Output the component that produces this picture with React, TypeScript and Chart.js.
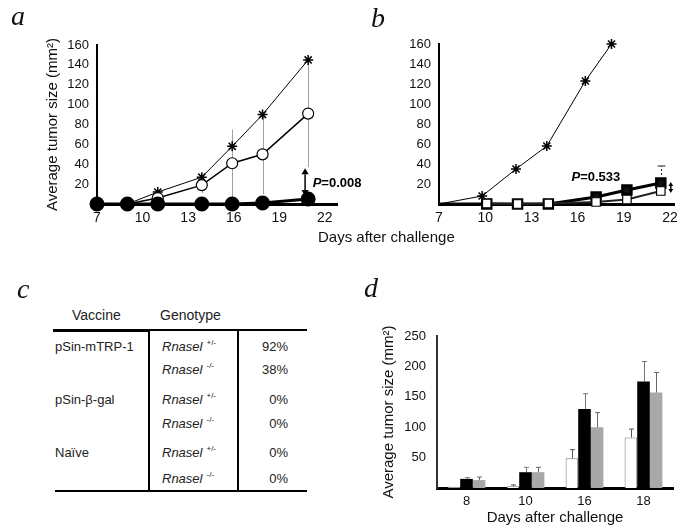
import React, { useEffect, useRef } from 'react';
import { Chart, registerables } from 'chart.js';

Chart.register(...registerables);

const FONT = "'Liberation Sans', Arial, Helvetica, sans-serif";
const SERIF = "'Liberation Serif', 'Times New Roman', serif";

// ---------- Panel a ----------
const aDaysFilled = [7, 9, 11, 13.9, 15.9, 17.9, 20.9];
const aFilled = [0, 0, 0, 0, 0, 1, 5];
const aDaysStar = [9, 11, 13.9, 15.9, 17.9, 20.9];
const aStar = [0, 12, 27, 58, 90, 145];
const aDaysOpen = [9, 11, 13.9, 15.9, 17.9, 20.9];
const aOpen = [0, 6, 19, 41, 50, 91];
const aOpenErr = [0, 0, 8, 34, 40, 54];
const aPText = '=0.008';
const aPAnchor = { day: 21.2, value: 21 };
const aArrow = { day: 20.7, from: 36, to: 8 };

// ---------- Panel b ----------
const bDaysStar = [7, 9.8, 12.0, 14.0, 16.5, 18.2];
const bStar = [0, 8, 35, 58, 123, 160];
const bDaysFilled = [7, 10.1, 12.1, 14.1, 17.2, 19.2, 21.4];
const bFilled = [0, 0, 0, 0, 7, 14, 21];
const bFilledErr = [0, 0, 0, 0, 0, 0, 17];
const bDaysOpen = [10.1, 12.1, 14.1, 17.2, 19.2, 21.4];
const bOpen = [0.5, 0, 0.5, 2, 4.5, 13];
const bPText = '=0.533';
const bPAnchor = { day: 15.6, value: 27 };
const bArrow = { day: 22.05, from: 22, to: 11 };

// shared axes
const dayTicks = [7, 10, 13, 16, 19, 22];
const sizeTicks = [0, 20, 40, 60, 80, 100, 120, 140, 160];

// ---------- Panel d ----------
const dDays = ['8', '10', '16', '18'];
const dWhite = [2, 3, 49, 83];
const dWhiteErr = [0, 2, 14, 14];
const dBlack = [15, 26, 130, 175];
const dBlackErr = [2, 8, 25, 33];
const dGray = [13, 26, 100, 157];
const dGrayErr = [5, 8, 24, 33];
const dTicks = [0, 50, 100, 150, 200, 250];

// ---------- Panel c ----------
const cVaccine = ['pSin-mTRP-1', '', 'pSin-\u03b2-gal', '', 'Na\u00efve', ''];
const cGenotype = ['+/-', '-/-', '+/-', '-/-', '+/-', '-/-'];
const cPercent = ['92%', '38%', '0%', '0%', '0%', '0%'];

function pts(xs: number[], ys: number[]) {
  return xs.map((x, i) => ({ x, y: ys[i] }));
}

function doubleArrow(ctx: CanvasRenderingContext2D, x: number, y1: number, y2: number, head: number) {
  const top = Math.min(y1, y2);
  const bot = Math.max(y1, y2);
  ctx.beginPath();
  ctx.moveTo(x, top + head);
  ctx.lineTo(x, bot - head);
  ctx.stroke();
  ctx.beginPath();
  ctx.moveTo(x, top);
  ctx.lineTo(x - head * 0.6, top + head);
  ctx.lineTo(x + head * 0.6, top + head);
  ctx.closePath();
  ctx.fill();
  ctx.beginPath();
  ctx.moveTo(x, bot);
  ctx.lineTo(x - head * 0.6, bot - head);
  ctx.lineTo(x + head * 0.6, bot - head);
  ctx.closePath();
  ctx.fill();
}

function drawP(ctx: CanvasRenderingContext2D, x: number, y: number, rest: string) {
  ctx.save();
  ctx.fillStyle = '#000';
  ctx.textBaseline = 'middle';
  ctx.textAlign = 'left';
  ctx.font = `italic bold 13px ${FONT}`;
  ctx.fillText('P', x, y);
  const w = ctx.measureText('P').width;
  ctx.font = `bold 13px ${FONT}`;
  ctx.fillText(rest, x + w, y);
  ctx.restore();
}

const tickFont = { family: FONT, size: 13 };
const xTickFont = { family: FONT, size: 14 };

function sizeAxis(width: number, withTitle: boolean) {
  return {
    min: 0,
    max: 160,
    afterBuildTicks: (s: any) => {
      s.ticks = sizeTicks.map((v) => ({ value: v }));
    },
    afterFit: (s: any) => {
      s.width = width;
    },
    grid: { display: false, drawTicks: false },
    border: { display: true, color: '#000', width: 2 },
    ticks: {
      color: '#111',
      font: tickFont,
      padding: 8,
      callback: (v: any) => (v === 0 ? '' : String(v)),
    },
    title: {
      display: withTitle,
      text: 'Average tumor size (mm\u00b2)',
      color: '#111',
      font: { family: FONT, size: 15 },
      padding: { top: 2, bottom: 0 },
    },
  };
}

function dayAxis(max: number) {
  return {
    type: 'linear',
    min: 7,
    max,
    afterBuildTicks: (s: any) => {
      s.ticks = dayTicks.map((v) => ({ value: v }));
    },
    afterFit: (s: any) => {
      s.height = 31;
    },
    grid: { display: false, drawTicks: false },
    border: { display: true, color: '#000', width: 3 },
    ticks: {
      color: '#111',
      font: xTickFont,
      padding: 6,
      maxRotation: 0,
      autoSkip: false,
      callback: (v: any) => String(v),
    },
  };
}

const baseOptions = {
  responsive: false,
  animation: false,
  plugins: { legend: { display: false }, tooltip: { enabled: false } },
};

function makeA(): any {
  const plugin = {
    id: 'annA',
    beforeDatasetsDraw(chart: any) {
      const { ctx, scales } = chart;
      const { x, y } = scales;
      ctx.save();
      ctx.strokeStyle = '#a0a0a0';
      ctx.lineWidth = 1;
      aDaysOpen.forEach((d, i) => {
        const e = aOpenErr[i];
        if (!e) return;
        const px = Math.round(x.getPixelForValue(d)) + 0.5;
        ctx.beginPath();
        ctx.moveTo(px, y.getPixelForValue(Math.max(0, aOpen[i] - e)));
        ctx.lineTo(px, y.getPixelForValue(aOpen[i] + e));
        ctx.stroke();
      });
      ctx.restore();
    },
    afterDatasetsDraw(chart: any) {
      const { ctx, scales } = chart;
      const { x, y } = scales;
      ctx.save();
      ctx.strokeStyle = '#000';
      ctx.fillStyle = '#000';
      ctx.lineWidth = 1.5;
      doubleArrow(ctx, x.getPixelForValue(aArrow.day), y.getPixelForValue(aArrow.from), y.getPixelForValue(aArrow.to), 6);
      ctx.restore();
      drawP(ctx, x.getPixelForValue(aPAnchor.day), y.getPixelForValue(aPAnchor.value), aPText);
    },
  };
  return {
    type: 'line',
    data: {
      datasets: [
        {
          data: pts(aDaysFilled, aFilled),
          borderColor: '#000',
          borderWidth: 3,
          pointStyle: 'circle',
          pointRadius: 6,
          pointBackgroundColor: '#000',
          pointBorderColor: '#000',
          clip: false,
        },
        {
          data: pts(aDaysOpen, aOpen),
          borderColor: '#000',
          borderWidth: 1.5,
          pointStyle: 'circle',
          pointRadius: 5.5,
          pointBackgroundColor: '#fff',
          pointBorderColor: '#000',
          pointBorderWidth: 1.2,
          clip: false,
        },
        {
          data: pts(aDaysStar, aStar),
          borderColor: '#000',
          borderWidth: 1,
          pointStyle: 'star',
          pointRadius: 5,
          pointBorderColor: '#000',
          pointBorderWidth: 1.5,
          clip: false,
        },
      ],
    },
    options: {
      ...baseOptions,
      layout: { padding: { left: 42, top: 45, right: 43, bottom: 0 } },
      scales: { x: dayAxis(22.8), y: sizeAxis(55, true) },
    },
    plugins: [plugin],
  };
}

function makeB(): any {
  const plugin = {
    id: 'annB',
    afterDatasetsDraw(chart: any) {
      const { ctx, scales } = chart;
      const { x, y } = scales;
      ctx.save();
      ctx.strokeStyle = '#222';
      ctx.lineWidth = 1;
      ctx.setLineDash([2, 2]);
      bDaysFilled.forEach((d, i) => {
        const e = bFilledErr[i];
        if (!e) return;
        const px = Math.round(x.getPixelForValue(d)) + 0.5;
        const top = y.getPixelForValue(bFilled[i] + e);
        ctx.beginPath();
        ctx.moveTo(px, y.getPixelForValue(bFilled[i]) - 4);
        ctx.lineTo(px, top);
        ctx.stroke();
        ctx.setLineDash([]);
        ctx.beginPath();
        ctx.moveTo(px - 4, top);
        ctx.lineTo(px + 4, top);
        ctx.stroke();
      });
      ctx.setLineDash([]);
      ctx.fillStyle = '#000';
      ctx.strokeStyle = '#000';
      ctx.lineWidth = 1.5;
      doubleArrow(ctx, x.getPixelForValue(bArrow.day), y.getPixelForValue(bArrow.from), y.getPixelForValue(bArrow.to), 4);
      ctx.restore();
      drawP(ctx, x.getPixelForValue(bPAnchor.day), y.getPixelForValue(bPAnchor.value), bPText);
    },
  };
  return {
    type: 'line',
    data: {
      datasets: [
        {
          data: pts(bDaysOpen, bOpen),
          borderColor: '#222',
          borderWidth: 2,
          pointStyle: 'rect',
          pointRadius: 6,
          pointBackgroundColor: '#fff',
          pointBorderColor: '#000',
          pointBorderWidth: 1.2,
          clip: false,
        },
        {
          data: pts(bDaysFilled, bFilled),
          borderColor: '#000',
          borderWidth: 3,
          pointStyle: 'rect',
          pointRadius: bDaysFilled.map((_, i) => (i === 0 ? 0 : 6)),
          pointBackgroundColor: '#111',
          pointBorderColor: '#000',
          clip: false,
        },
        {
          data: pts(bDaysStar, bStar),
          borderColor: '#000',
          borderWidth: 1,
          pointStyle: 'star',
          pointRadius: bDaysStar.map((_, i) => (i === 0 ? 0 : 5)),
          pointBorderColor: '#000',
          pointBorderWidth: 1.5,
          clip: false,
        },
      ],
    },
    options: {
      ...baseOptions,
      layout: { padding: { left: 44, top: 44, right: 7, bottom: 0 } },
      scales: { x: dayAxis(22.3), y: sizeAxis(50, false) },
    },
    plugins: [plugin],
  };
}

function makeD(): any {
  const errs = [dWhiteErr, dBlackErr, dGrayErr];
  const errColors = ['#555', '#777', '#666'];
  const plugin = {
    id: 'errD',
    afterDatasetsDraw(chart: any) {
      const { ctx, scales } = chart;
      const y = scales.y;
      ctx.save();
      ctx.lineWidth = 1;
      errs.forEach((arr, di) => {
        const meta = chart.getDatasetMeta(di);
        const vals = chart.data.datasets[di].data;
        ctx.strokeStyle = errColors[di];
        meta.data.forEach((bar: any, j: number) => {
          const e = arr[j];
          if (!e) return;
          const px = Math.round(bar.x) + 0.5;
          const top = y.getPixelForValue(vals[j] + e);
          ctx.beginPath();
          ctx.moveTo(px, y.getPixelForValue(vals[j]));
          ctx.lineTo(px, top);
          ctx.moveTo(px - 2.5, top);
          ctx.lineTo(px + 2.5, top);
          ctx.stroke();
        });
      });
      ctx.restore();
    },
  };
  return {
    type: 'bar',
    data: {
      labels: dDays,
      datasets: [
        { data: dWhite, backgroundColor: '#fff', borderColor: '#777', borderWidth: 1 },
        { data: dBlack, backgroundColor: '#000', borderColor: '#000', borderWidth: 0 },
        { data: dGray, backgroundColor: '#a8a8a8', borderColor: '#a8a8a8', borderWidth: 0 },
      ],
    },
    options: {
      ...baseOptions,
      datasets: { bar: { categoryPercentage: 0.64, barPercentage: 1.0 } },
      layout: { padding: { left: 33, top: 66, right: 11, bottom: 0 } },
      scales: {
        x: {
          type: 'category',
          offset: true,
          afterFit: (s: any) => {
            s.height = 43;
          },
          grid: { display: false, drawTicks: false },
          border: { display: true, color: '#000', width: 3 },
          ticks: { color: '#111', font: { family: FONT, size: 13 }, padding: 6, maxRotation: 0 },
          title: {
            display: true,
            text: 'Days after challenge',
            color: '#111',
            font: { family: FONT, size: 15 },
            padding: { top: 0, bottom: 4 },
          },
        },
        y: {
          min: 0,
          max: 250,
          afterBuildTicks: (s: any) => {
            s.ticks = dTicks.map((v) => ({ value: v }));
          },
          afterFit: (s: any) => {
            s.width = 59;
          },
          grid: { display: false, drawTicks: false },
          border: { display: true, color: '#333', width: 2 },
          ticks: {
            color: '#111',
            font: { family: FONT, size: 13 },
            padding: 11,
            callback: (v: any) => (v === 0 ? '' : String(v)),
          },
          title: {
            display: true,
            text: 'Average tumor size (mm\u00b2)',
            color: '#111',
            font: { family: FONT, size: 15 },
            padding: { top: 2, bottom: 0 },
          },
        },
      },
    },
    plugins: [plugin],
  };
}

function ChartBox(props: { left: number; top: number; width: number; height: number; make: () => any }) {
  const ref = useRef<HTMLCanvasElement | null>(null);
  useEffect(() => {
    if (!ref.current) return;
    const chart = new Chart(ref.current, props.make());
    return () => chart.destroy();
  }, []);
  const { left, top, width, height } = props;
  return (
    <canvas
      ref={ref}
      width={width}
      height={height}
      style={{ position: 'absolute', left, top, width, height, display: 'block' }}
    />
  );
}

function Letter(props: { ch: string; left: number; top: number }) {
  return (
    <div
      style={{
        position: 'absolute',
        left: props.left,
        top: props.top,
        fontFamily: SERIF,
        fontStyle: 'italic',
        fontSize: 28,
        lineHeight: '28px',
        color: '#111',
      }}
    >
      {props.ch}
    </div>
  );
}

const rowCenters = [347, 370, 400, 424, 453, 479];

function TableC() {
  const txt: React.CSSProperties = {
    position: 'absolute',
    fontFamily: FONT,
    fontSize: 13,
    lineHeight: '16px',
    color: '#222',
    whiteSpace: 'nowrap',
  };
  const line = (l: number, t: number, w: number, h: number) => (
    <div style={{ position: 'absolute', left: l, top: t, width: w, height: h, background: '#000' }} />
  );
  return (
    <>
      <div style={{ ...txt, left: 72, top: 307, fontSize: 14 }}>Vaccine</div>
      <div style={{ ...txt, left: 160, top: 307, fontSize: 14 }}>Genotype</div>
      {line(53, 329, 97, 3)}
      {line(150, 329, 157, 2)}
      {line(148, 330, 2, 161)}
      {line(237, 330, 2, 161)}
      {line(55, 490, 252, 2)}
      {cVaccine.map((v, i) =>
        v ? (
          <div key={'v' + i} style={{ ...txt, left: 55, top: rowCenters[i] - 8 }}>
            {v}
          </div>
        ) : null
      )}
      {cGenotype.map((g, i) => (
        <div key={'g' + i} style={{ ...txt, left: 162, top: rowCenters[i] - 8 }}>
          <span style={{ fontStyle: 'italic' }}>Rnasel</span>
          <span style={{ fontSize: 8, position: 'relative', top: -6, marginLeft: 4 }}>{g}</span>
        </div>
      ))}
      {cPercent.map((p, i) => (
        <div key={'p' + i} style={{ ...txt, left: 240, width: 48, textAlign: 'right', top: rowCenters[i] - 8 }}>
          {p}
        </div>
      ))}
    </>
  );
}

export default function App() {
  return (
    <div
      style={{
        position: 'absolute',
        left: 0,
        top: 0,
        width: 684,
        height: 531,
        background: '#fff',
        overflow: 'hidden',
      }}
    >
      <ChartBox left={0} top={0} width={380} height={235} make={makeA} />
      <ChartBox left={345} top={0} width={339} height={235} make={makeB} />
      <ChartBox left={345} top={270} width={339} height={261} make={makeD} />
      <div
        style={{
          position: 'absolute',
          left: 318,
          top: 228,
          fontFamily: FONT,
          fontSize: 15,
          lineHeight: '18px',
          color: '#111',
          whiteSpace: 'nowrap',
        }}
      >
        Days after challenge
      </div>
      <TableC />
      <Letter ch="a" left={11} top={2} />
      <Letter ch="b" left={371} top={4} />
      <Letter ch="c" left={17} top={275} />
      <Letter ch="d" left={364} top={274} />
    </div>
  );
}
